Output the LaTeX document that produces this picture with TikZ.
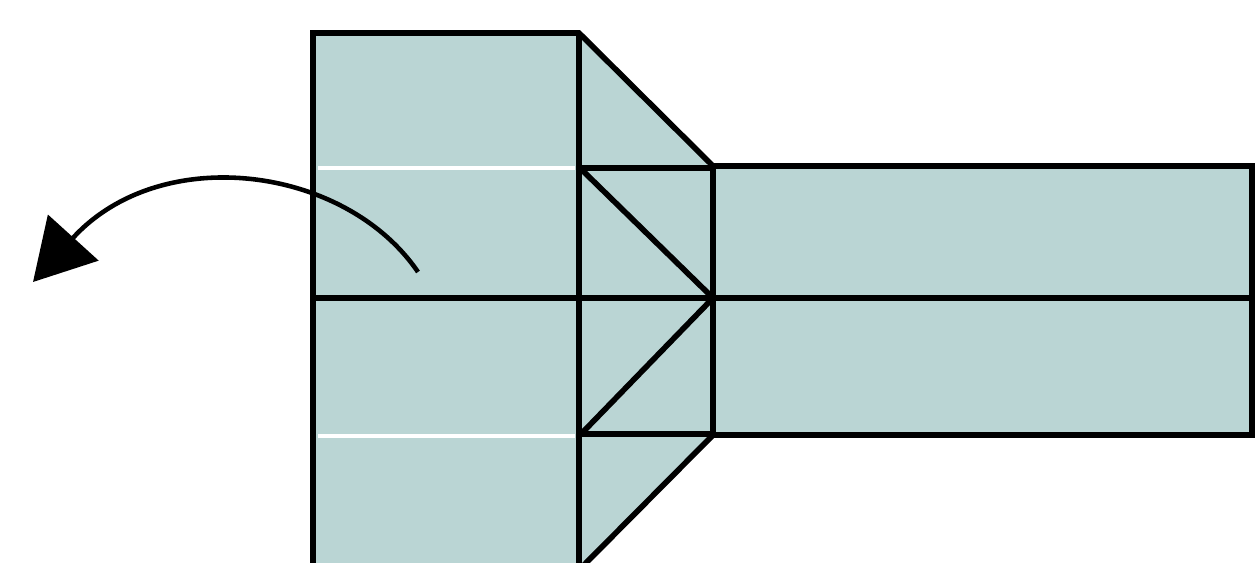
\documentclass[tikz,border=0pt]{standalone}
\usetikzlibrary{arrows.meta}
\definecolor{paper}{RGB}{186,213,212}
\tikzset{
  edge/.style={draw=black,line width=3.2pt,line join=miter},
  crease/.style={draw=white,line width=1.8pt},
  foldarrow/.style={draw=black,line width=2.6pt,-{Triangle[length=1.2cm,width=1.35cm]}}
}
\begin{document}
\begin{tikzpicture}[x=0.02cm,y=-0.02cm]
\useasboundingbox (0,0) rectangle (1256,562);
\begin{scope}
\clip (0,0) rectangle (1256,562);
% fills
\fill[paper] (313,33) -- (579,33) -- (713,166) -- (1252,166) -- (1252,435) -- (713,435) -- (579,570) -- (313,570) -- cycle;
% white creases on left panel
\draw[crease] (318,168) -- (575,168);
\draw[crease] (318,436) -- (575,436);
% outlines
\draw[edge] (313,575) -- (313,33) -- (579,33) -- (713,166) -- (1252,166) -- (1252,435) -- (713,435) -- (579,570);
\draw[edge] (579,33) -- (579,575);
\draw[edge] (579,168) -- (713,168);
\draw[edge] (713,166) -- (713,435);
\draw[edge] (579,434) -- (713,434);
\draw[edge] (313,298) -- (1252,298);
\draw[edge] (582,170) -- (713,298) -- (582,433);
\end{scope}
% fold arrow
\coordinate (s) at (418,272);
\coordinate (e) at (33,282);
\draw[foldarrow] (s) .. controls (345,165) and (160,142) .. (e);
\end{tikzpicture}
\end{document}
